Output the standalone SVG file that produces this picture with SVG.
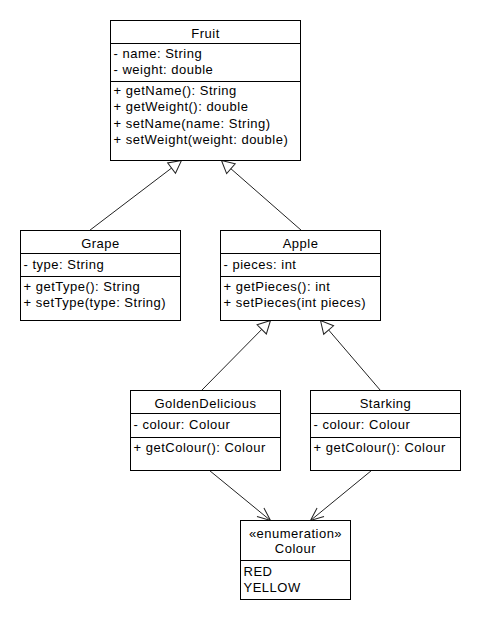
<svg xmlns="http://www.w3.org/2000/svg" width="480" height="620" viewBox="0 0 480 620">
<style>
.box{fill:#fff;stroke:#000;stroke-width:1}
.div{stroke:#000;stroke-width:1}
text{font-family:"Liberation Sans",Arial,sans-serif;font-size:13px;fill:#000;letter-spacing:0.5px}
.t{text-anchor:middle}
.gen{stroke:#222;stroke-width:1;fill:none;marker-end:url(#tri)}
.assoc{stroke:#222;stroke-width:1;fill:none;marker-end:url(#open)}
</style>
<defs>
<marker id="tri" markerUnits="userSpaceOnUse" viewBox="-14 -8 16 16" refX="0" refY="0" markerWidth="16" markerHeight="16" orient="auto">
<path d="M0,0 L-12.5,-6.5 L-12.5,6.5 Z" fill="#fff" stroke="#222" stroke-width="1"/>
</marker>
<marker id="open" markerUnits="userSpaceOnUse" viewBox="-14 -8 16 16" refX="0" refY="0" markerWidth="16" markerHeight="16" orient="auto">
<path d="M-13,-5.5 L0,0 L-13,5.5" fill="none" stroke="#222" stroke-width="1"/>
</marker>
</defs>
<rect width="480" height="620" fill="#fff"/>
<g transform="translate(0.5,0.5)">
<g id="connectors">
<line class="gen" x1="89" y1="230" x2="181" y2="160"/>
<line class="gen" x1="301" y1="230" x2="221" y2="160"/>
<line class="gen" x1="201" y1="390" x2="270" y2="320"/>
<line class="gen" x1="380" y1="390" x2="320" y2="320"/>
<line class="assoc" x1="209" y1="470" x2="270" y2="520"/>
<line class="assoc" x1="371" y1="470" x2="310" y2="520"/>
</g>
<g id="Fruit">
<rect class="box" x="110" y="20" width="190" height="140"/>
<line class="div" x1="110" y1="43" x2="300" y2="43"/>
<line class="div" x1="110" y1="81" x2="300" y2="81"/>
<text class="t" x="205" y="37">Fruit</text>
<text x="113" y="57">- name: String</text>
<text x="113" y="73.5">- weight: double</text>
<text x="113" y="94.5">+ getName(): String</text>
<text x="113" y="110.8">+ getWeight(): double</text>
<text x="113" y="127.1">+ setName(name: String)</text>
<text x="113" y="143.4">+ setWeight(weight: double)</text>
</g>
<g id="Grape">
<rect class="box" x="20" y="230" width="160" height="90"/>
<line class="div" x1="20" y1="253" x2="180" y2="253"/>
<line class="div" x1="20" y1="276" x2="180" y2="276"/>
<text class="t" x="100" y="247">Grape</text>
<text x="23" y="268">- type: String</text>
<text x="23" y="290">+ getType(): String</text>
<text x="23" y="306">+ setType(type: String)</text>
</g>
<g id="Apple">
<rect class="box" x="220" y="230" width="160" height="90"/>
<line class="div" x1="220" y1="253" x2="380" y2="253"/>
<line class="div" x1="220" y1="276" x2="380" y2="276"/>
<text class="t" x="300" y="247">Apple</text>
<text x="223" y="268">- pieces: int</text>
<text x="223" y="290">+ getPieces(): int</text>
<text x="223" y="306">+ setPieces(int pieces)</text>
</g>
<g id="GoldenDelicious">
<rect class="box" x="130" y="390" width="150" height="80"/>
<line class="div" x1="130" y1="413" x2="280" y2="413"/>
<line class="div" x1="130" y1="437" x2="280" y2="437"/>
<text class="t" x="205" y="407">GoldenDelicious</text>
<text x="133" y="428">- colour: Colour</text>
<text x="133" y="451">+ getColour(): Colour</text>
</g>
<g id="Starking">
<rect class="box" x="310" y="390" width="150" height="80"/>
<line class="div" x1="310" y1="413" x2="460" y2="413"/>
<line class="div" x1="310" y1="437" x2="460" y2="437"/>
<text class="t" x="385" y="407">Starking</text>
<text x="313" y="428">- colour: Colour</text>
<text x="313" y="451">+ getColour(): Colour</text>
</g>
<g id="Colour">
<rect class="box" x="240" y="520" width="110" height="79"/>
<line class="div" x1="240" y1="560" x2="350" y2="560"/>
<text class="t" x="295" y="537">«enumeration»</text>
<text class="t" x="295" y="552">Colour</text>
<text x="243" y="575">RED</text>
<text x="243" y="591">YELLOW</text>
</g>
</g>
</svg>
